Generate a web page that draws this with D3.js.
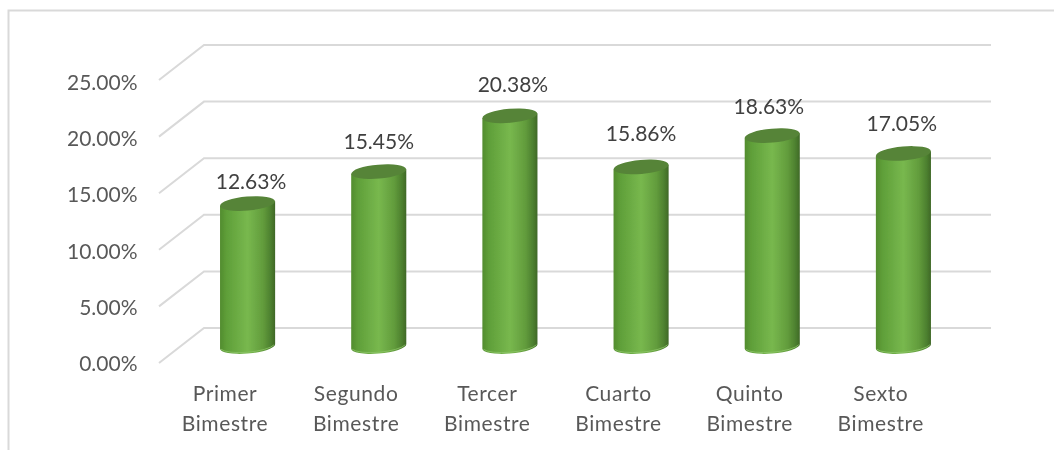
<!DOCTYPE html>
<html><head><meta charset="utf-8">
<script src="https://cdn.jsdelivr.net/npm/d3@7/dist/d3.min.js"></script>
<style>html,body{margin:0;padding:0;background:#fff}svg{display:block}</style></head>
<body><svg id="c" width="1054" height="450"></svg>
<script>
const categories = [["Primer","Bimestre"],["Segundo","Bimestre"],["Tercer","Bimestre"],["Cuarto","Bimestre"],["Quinto","Bimestre"],["Sexto","Bimestre"]];
const values = [12.63,15.45,20.38,15.86,18.63,17.05];
const ticks = [0,5,10,15,20,25];
const labelNudgeX = [3.4,0,3,0,-3.4,-1.6];
const labelNudgeY = [-15,-23,-24,-26,-22,-22];

const root = d3.select("#c");
const font = "Lato, 'Open Sans', sans-serif";
const defs = root.append("defs");
const g = defs.append("linearGradient").attr("id","body");
[[0,"#528c2e"],[0.12,"#5f9f39"],[0.5,"#78b84e"],[0.78,"#629c3c"],[0.92,"#4d802f"],[1,"#3f6827"]]
  .forEach(s=>g.append("stop").attr("offset",s[0]).attr("stop-color",s[1]));
defs.append("filter").attr("id","soft").attr("x",0).attr("y",0).attr("width","100%").attr("height","100%")
  .attr("filterUnits","userSpaceOnUse")
  .append("feGaussianBlur").attr("stdDeviation",0.45);
const svg = root.append("g").attr("filter","url(#soft)");
svg.append("rect").attr("width",1054).attr("height",450).attr("fill","#fff");

// frame
svg.append("path").attr("d","M8.5 450V10.5H1054").attr("fill","none").attr("stroke","#d9d9d9").attr("stroke-width",2);

const yFront = d3.scaleLinear().domain([0,25]).range([363,80]);
const yBack = d3.scaleLinear().domain([0,25]).range([328,45]);
const yBar = d3.scaleLinear().domain([0,25]).range([346.5,63.5]);
const yTick = d3.scaleLinear().domain([0,25]).range([371,90]);
const x = d3.scaleBand().domain(d3.range(6)).range([182,969]).paddingInner(0.58).paddingOuter(0.29);
const xF=159,xB=204,xR=991;

svg.append("g").selectAll("path").data(ticks).join("path")
  .attr("d",t=>d3.line()([[xF,yFront(t)],[xB,yBack(t)],[xR,yBack(t)]]))
  .attr("fill","none").attr("stroke","#d9d9d9").attr("stroke-width",2);

svg.append("g").selectAll("text").data(ticks).join("text")
  .attr("x",137.5).attr("y",t=>yTick(t)).attr("text-anchor","end")
  .attr("font-family",font).attr("font-size",21).attr("fill","#595959")
  .text(t=>t.toFixed(2)+"%");

const w = x.bandwidth(), rx=w/2, ry=7, rot=-5;
const bars = svg.append("g").selectAll("g").data(values).join("g");
const dy = rx*Math.sin(-rot*Math.PI/180)*0.94;
bars.append("path").attr("fill","url(#body)").attr("d",(v,i)=>{
  const l=x(i), r=l+w;
  const t=yBar(v), b=yBar(0);
  return `M${l} ${t+dy}L${l} ${b+dy}A${rx} ${ry} ${rot} 0 0 ${r} ${b-dy}L${r} ${t-dy}Z`;
});
bars.append("path").attr("fill","none").attr("stroke","#8cc466").attr("stroke-width",1).attr("stroke-opacity",0.8)
  .attr("d",(v,i)=>`M${x(i)+1} ${yBar(0)+dy+0.5}A${rx} ${ry} ${rot} 0 0 ${x(i)+w-1} ${yBar(0)-dy+0.5}`);
bars.append("ellipse").attr("fill","#568438")
  .attr("rx",rx).attr("ry",ry)
  .attr("transform",(v,i)=>`translate(${x(i)+w/2},${yBar(v)}) rotate(${rot})`);

svg.append("g").selectAll("text").data(values).join("text")
  .attr("x",(v,i)=>x(i)+w/2+labelNudgeX[i]).attr("y",(v,i)=>yBar(v)+labelNudgeY[i]).attr("text-anchor","middle")
  .attr("font-family",font).attr("font-size",21).attr("fill","#404040")
  .text(v=>v.toFixed(2)+"%");

const labs = svg.append("g").selectAll("text").data(categories).join("text")
  .attr("text-anchor","middle").attr("font-family",font).attr("font-size",21).attr("letter-spacing",0.6).attr("fill","#595959");
labs.selectAll("tspan").data((d,i)=>d.map(s=>({s,i}))).join("tspan")
  .attr("x",d=>x(d.i)+w/2-22.6).attr("y",(d,j)=>400.7+j*30).text(d=>d.s);
</script></body></html>
